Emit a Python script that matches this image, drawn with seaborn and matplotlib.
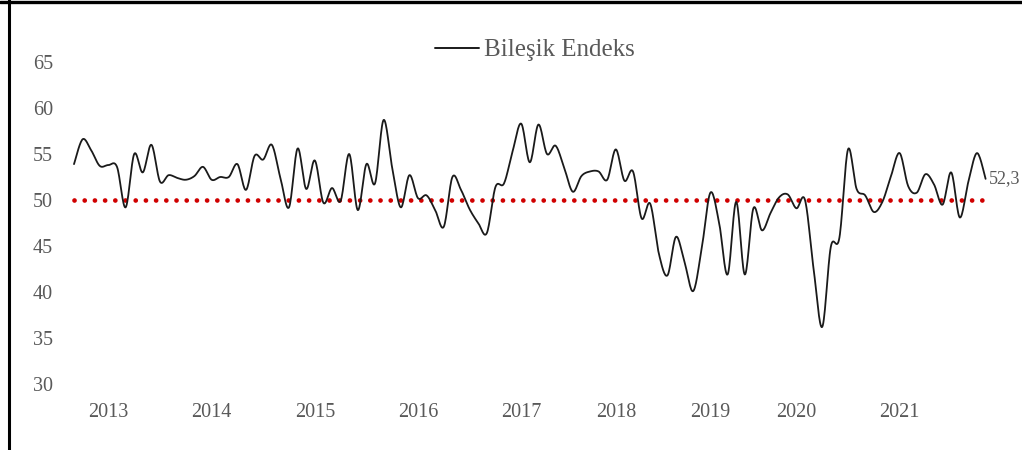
import numpy as np
import pandas as pd
import matplotlib
matplotlib.use("Agg")
import matplotlib.pyplot as plt
from matplotlib.lines import Line2D
import seaborn as sns

# ---- data ----
values = [
    53.9, 56.6, 55.4, 53.7, 53.8, 53.6, 49.2, 55.0, 53.0, 56.0,
    52.0, 52.7, 52.4, 52.2, 52.6, 53.6, 52.2, 52.5, 52.5, 53.9,
    51.1, 54.8, 54.4, 56.0, 52.4, 49.2, 55.6, 51.2, 54.3, 49.7,
    51.3, 49.9, 55.0, 48.9, 53.9, 51.8, 58.7, 53.5, 49.2, 52.7,
    50.2, 50.5, 48.9, 47.1, 52.5, 51.1, 49.0, 47.5, 46.4, 51.4,
    51.8, 55.3, 58.3, 54.1, 58.2, 55.0, 55.9, 53.5, 50.9, 52.6,
    53.1, 53.1, 52.2, 55.5, 52.1, 53.1, 48.0, 49.6, 44.2, 41.8,
    46.0, 43.2, 40.1, 44.8, 50.8, 47.6, 41.9, 49.8, 41.9, 49.1,
    46.7, 48.6, 50.3, 50.6, 49.1, 50.0, 42.5, 36.2, 44.9, 45.9,
    55.5, 51.2, 50.5, 48.7, 49.8, 52.6, 55.1, 51.5, 50.8, 52.8,
    51.7, 49.5, 53.0, 48.1, 52.0, 55.1, 52.3,
]
year_labels = ["2013", "2014", "2015", "2016", "2017", "2018", "2019", "2020", "2021"]
year_label_index = [4, 16, 28, 40, 52, 63, 74, 84, 96]
threshold = 50
series_name = "Bileşik Endeks"
last_label = "52,3"
y_ticks = [30, 35, 40, 45, 50, 55, 60, 65]

# ---- smoothing like a spreadsheet "smoothed line" (Catmull-Rom Bezier) ----
def smooth_curve(xs, ys, n=16):
    P = np.column_stack([xs, ys]).astype(float)
    E = np.vstack([P[0], P, P[-1]])
    parts = []
    t = np.linspace(0, 1, n, endpoint=False)[:, None]
    for i in range(len(P) - 1):
        p0, p1, p2, p3 = E[i], E[i + 1], E[i + 2], E[i + 3]
        c1 = p1 + (p2 - p0) / 6.0
        c2 = p2 - (p3 - p1) / 6.0
        b = ((1 - t) ** 3) * p1 + 3 * ((1 - t) ** 2) * t * c1 + 3 * (1 - t) * t ** 2 * c2 + t ** 3 * p2
        parts.append(b)
    parts.append(P[-1][None, :])
    return np.vstack(parts)

idx = np.arange(len(values))
df = pd.DataFrame({"idx": idx, "value": values})
curve = smooth_curve(df["idx"].values, df["value"].values)
curve_df = pd.DataFrame({"x": curve[:, 0], "y": curve[:, 1]})
ref_df = pd.DataFrame({"x": idx, "y": [threshold] * len(idx)})

# ---- style ----
sns.set_style("white")
plt.rcParams["font.family"] = ["Liberation Serif", "DejaVu Serif"]
grey = "#595959"

W, H = 1022, 450
fig = plt.figure(figsize=(W / 100, H / 100), dpi=100)
fig.patch.set_facecolor("white")

ax_left_px, ax_right_px = 60, 1005
ax_top_px, ax_bottom_px = 62, 384
ax = fig.add_axes([ax_left_px / W, 1 - ax_bottom_px / H,
                   (ax_right_px - ax_left_px) / W, (ax_bottom_px - ax_top_px) / H])

x0_px, step_px = 74.0, 8.6
ax.set_xlim((ax_left_px - x0_px) / step_px, (ax_right_px - x0_px) / step_px)
ax.set_ylim(30, 65)

# reference line at 50 (red round dots)
sns.lineplot(data=ref_df, x="x", y="y", ax=ax, color="#D00000", linewidth=3.4,
             linestyle=(0, (0.01, 2.15)), dash_capstyle="round", zorder=2)

# main smoothed series
sns.lineplot(data=curve_df, x="x", y="y", ax=ax, sort=False, estimator=None,
             color="#1a1a1a", linewidth=1.3, zorder=3)

for s in ax.spines.values():
    s.set_visible(False)
ax.grid(False)
ax.set_xlabel("")
ax.set_ylabel("")

ax.set_yticks(y_ticks)
ax.set_yticklabels([str(v) for v in y_ticks])
ax.set_xticks(year_label_index)
ax.set_xticklabels(year_labels)
ax.tick_params(axis="y", length=0, pad=5, labelsize=14.5, labelcolor=grey)
ax.tick_params(axis="x", length=0, pad=14, labelsize=14.5, labelcolor=grey)

# end value label
ax.annotate(last_label, xy=(idx[-1], values[-1]), xytext=(2.5, 0), textcoords="offset points",
            ha="left", va="center", fontsize=13, color=grey, annotation_clip=False)

# legend
handle = Line2D([0], [0], color="#1a1a1a", linewidth=1.4)
leg = ax.legend([handle], [series_name], loc="center",
                bbox_to_anchor=(535 / W, 1 - 50 / H), bbox_transform=fig.transFigure,
                frameon=False, fontsize=18, handlelength=1.75, handletextpad=0.2)
for txt in leg.get_texts():
    txt.set_color(grey)

# outer frame (left and top edges visible in the reference)
fig.add_artist(Line2D([9 / W, 9 / W], [0, 1], transform=fig.transFigure, color="black", linewidth=2.2))
fig.add_artist(Line2D([0, 1], [1 - 1.5 / H, 1 - 1.5 / H], transform=fig.transFigure, color="black", linewidth=2.4))

fig.savefig("out.png", dpi=100)
